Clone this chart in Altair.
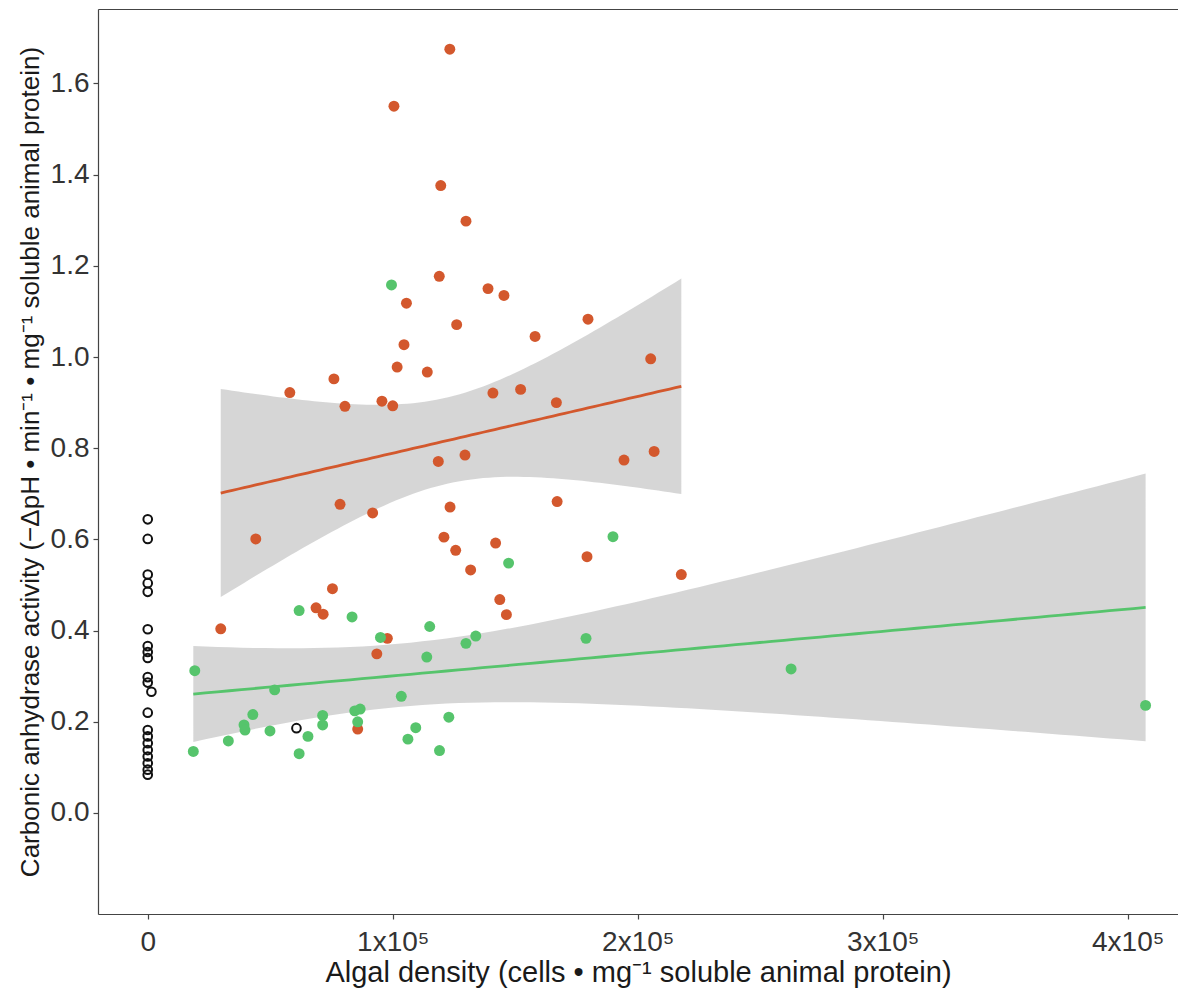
import math
import numpy as np
import pandas as pd
import altair as alt

# ---------------- data ----------------
# orange group: algal density (cells / mg protein), CA activity
orange_x = [100500, 105600, 104600, 101800, 114100, 76000, 58000, 80500, 95600, 100000,
            123300, 119600, 129900, 119000, 138900, 145400, 126100, 158100, 179700, 205300,
            140900, 152200, 166800, 118600, 129500, 194400, 206700, 78500, 91800, 123400,
            167100, 44100, 120900, 125700, 142000, 131800, 179300, 217800, 75400, 68700,
            71600, 143700, 146400, 97800, 29800, 93500, 85700]
orange_y = [1.550, 1.118, 1.027, 0.978, 0.967, 0.952, 0.922, 0.892, 0.903, 0.893,
            1.675, 1.376, 1.298, 1.177, 1.150, 1.135, 1.071, 1.045, 1.083, 0.996,
            0.921, 0.929, 0.900, 0.771, 0.785, 0.774, 0.793, 0.677, 0.658, 0.671,
            0.683, 0.601, 0.605, 0.576, 0.592, 0.533, 0.562, 0.523, 0.492, 0.450,
            0.436, 0.468, 0.435, 0.383, 0.404, 0.349, 0.184]

# green group
green_x = [99500, 189900, 147300, 61800, 83400, 115100, 95000, 133900, 129900, 178900,
           113900, 122900, 119100, 19200, 51800, 103500, 42900, 39300, 39700, 49900,
           71400, 71400, 84500, 86700, 85700, 109400, 106200, 65400, 32900, 18600,
           61800, 262600, 407300]
green_y = [1.158, 0.606, 0.548, 0.444, 0.430, 0.409, 0.385, 0.388, 0.372, 0.383,
           0.342, 0.210, 0.137, 0.312, 0.270, 0.256, 0.216, 0.193, 0.182, 0.180,
           0.214, 0.193, 0.224, 0.228, 0.200, 0.187, 0.162, 0.168, 0.158, 0.135,
           0.130, 0.316, 0.236]

# open circles (no algae)
open_x = [0, 0, 0, 0, 0, 0, 0, 0, 0, 0, 0, 1500, 0, 0, 0, 0, 0, 0, 0, 0, 0, 60700]
open_y = [0.644, 0.601, 0.523, 0.504, 0.485, 0.403, 0.366, 0.353, 0.340, 0.298,
          0.286, 0.266, 0.220, 0.182, 0.168, 0.153, 0.138, 0.124, 0.109, 0.095,
          0.084, 0.186]

x_ticks = [0, 100000, 200000, 300000, 400000]
y_ticks = [0.0, 0.2, 0.4, 0.6, 0.8, 1.0, 1.2, 1.4, 1.6]

ORANGE = "#D3582D"
GREEN = "#56C46C"


# ---------------- linear fit with 95% CI (like geom_smooth(method="lm")) ----------------
def t_ppf(p, df):
    xs = np.linspace(0.0, 12.0, 240001)
    c = math.exp(math.lgamma((df + 1) / 2) - math.lgamma(df / 2)) / math.sqrt(df * math.pi)
    pdf = c * (1 + xs ** 2 / df) ** (-(df + 1) / 2)
    cdf = 0.5 + np.concatenate([[0.0], np.cumsum((pdf[1:] + pdf[:-1]) / 2 * np.diff(xs))])
    return float(np.interp(p, cdf, xs))


def lm_band(xv, yv, name):
    x = np.asarray(xv, float)
    y = np.asarray(yv, float)
    n = len(x)
    xm, ym = x.mean(), y.mean()
    sxx = ((x - xm) ** 2).sum()
    b = ((x - xm) * (y - ym)).sum() / sxx
    a = ym - b * xm
    s = math.sqrt(((y - (a + b * x)) ** 2).sum() / (n - 2))
    t = t_ppf(0.975, n - 2)
    g = np.linspace(x.min(), x.max(), 80)
    fit = a + b * g
    se = s * np.sqrt(1.0 / n + (g - xm) ** 2 / sxx)
    return pd.DataFrame({"x": g, "fit": fit, "lo": fit - t * se, "hi": fit + t * se, "group": name})


bands = pd.concat([lm_band(orange_x, orange_y, "orange"), lm_band(green_x, green_y, "green")])
pts = pd.concat([
    pd.DataFrame({"x": orange_x, "y": orange_y, "group": "orange"}),
    pd.DataFrame({"x": green_x, "y": green_y, "group": "green"}),
])
opn = pd.DataFrame({"x": open_x, "y": open_y})

# ---------------- chart ----------------
FONT = "Liberation Sans"
W, H = 1080, 905
xscale = alt.Scale(domain=[-20300, 420530], nice=False, zero=False)
yscale = alt.Scale(domain=[-0.2215, 1.7632], nice=False, zero=False)
cscale = alt.Scale(domain=["orange", "green"], range=[ORANGE, GREEN])

x_axis = alt.Axis(
    orient="bottom", values=x_ticks,
    labelExpr="datum.value == 0 ? '0' : format(datum.value / 100000, 'd') + 'x10\u2075'",
    title="Algal density (cells \u2022 mg\u207b\u00b9 soluble animal protein)",
    grid=False, tickSize=5, labelPadding=9, labelFontSize=28, titleFontSize=29,
    titleY=58, titleBaseline="middle", titleFontWeight="normal",
    labelColor="#333333", titleColor="#1a1a1a", domainColor="#444444", tickColor="#444444",
    domainWidth=1.2, tickWidth=1.2, labelFont=FONT, titleFont=FONT, labelFlush=False,
)
top_axis = alt.Axis(orient="top", labels=False, ticks=False, title=None, grid=False,
                    domainColor="#444444", domainWidth=1.2)
y_axis = alt.Axis(
    orient="left", values=y_ticks, format=".1f",
    title="Carbonic anhydrase activity (\u2212\u0394pH \u2022 min\u207b\u00b9 \u2022 mg\u207b\u00b9 soluble animal protein)",
    grid=False, tickSize=5, labelPadding=4, labelFontSize=28, titleFontSize=26,
    titleX=-68, titleBaseline="middle", titleFontWeight="normal",
    labelColor="#333333", titleColor="#1a1a1a", domainColor="#444444", tickColor="#444444",
    domainWidth=1.2, tickWidth=1.2, labelFont=FONT, titleFont=FONT, labelFlush=False,
)

band = alt.Chart(bands).mark_area(color="#999999", opacity=0.4).encode(
    x=alt.X("x:Q", scale=xscale, axis=x_axis),
    y=alt.Y("lo:Q", scale=yscale, axis=y_axis),
    y2="hi:Q",
    detail="group:N",
)
line = alt.Chart(bands).mark_line(strokeWidth=2.8).encode(
    x=alt.X("x:Q", scale=xscale, axis=None),
    y=alt.Y("fit:Q", scale=yscale, axis=y_axis),
    color=alt.Color("group:N", scale=cscale, legend=None),
)
dots = alt.Chart(pts).mark_circle(size=120, opacity=1).encode(
    x=alt.X("x:Q", scale=xscale, axis=None),
    y=alt.Y("y:Q", scale=yscale, axis=y_axis),
    color=alt.Color("group:N", scale=cscale, legend=None),
)
rings = alt.Chart(opn).mark_point(shape="circle", filled=False, size=75, strokeWidth=2,
                                  color="#111111", opacity=1).encode(
    x=alt.X("x:Q", scale=xscale, axis=top_axis),
    y=alt.Y("y:Q", scale=yscale, axis=y_axis),
)

chart = (
    alt.layer(band, line, dots, rings)
    .resolve_axis(x="independent")
    .properties(width=W, height=H, autosize=alt.AutoSizeParams(type="none"),
                padding={"left": 90, "top": 1, "right": 0, "bottom": 80})
    .configure_view(stroke=None)
    .configure(background="white")
)

chart.save("out.html", embed_options={"renderer": "svg", "actions": False})
